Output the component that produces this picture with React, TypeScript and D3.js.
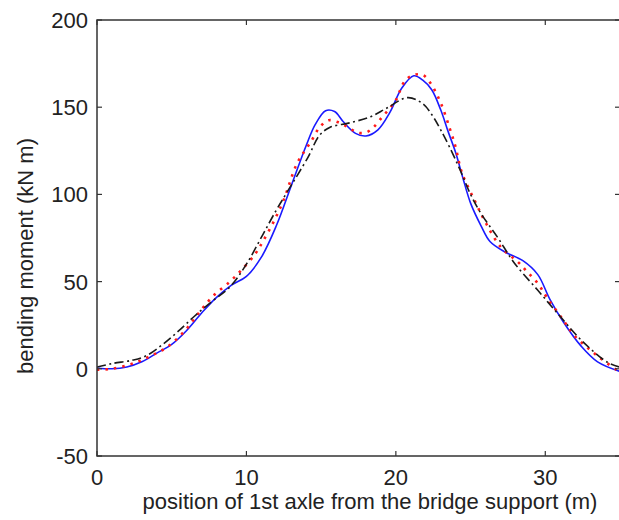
import React from "react";
import * as d3 from "d3";

const xTicks = [0, 10, 20, 30];
const yTicks = [-50, 0, 50, 100, 150, 200];

// measured (blue solid)
const blueSeries: [number, number][] = [
  [0, 0.5], [1, 0], [2, 1], [3, 4], [4, 9], [5, 14], [6, 22], [7, 32], [8, 41], [9, 48],
  [10, 53], [11, 64], [12, 82], [13, 105], [14, 128], [14.6, 140], [15.3, 148], [15.9, 147.5],
  [16.5, 141.5], [17.3, 135], [18, 133.5], [18.8, 137], [19.6, 147], [20.4, 161], [21.2, 168],
  [21.8, 165.5], [22.4, 160], [23, 148.5], [23.5, 136], [24, 124], [24.5, 109], [25, 95],
  [25.7, 82], [26.3, 73], [27.3, 67], [28.5, 62], [29.5, 54], [30.3, 40], [31.2, 27],
  [32.4, 13], [33.5, 4], [35, -1.5],
];

// red dotted
const redSeries: [number, number][] = [
  [0, -0.5], [1, 0], [2.3, 2.7], [3.5, 7], [4.7, 12.5], [5.9, 22], [6.9, 33], [7.8, 42],
  [8.9, 50], [9.6, 56], [10.6, 66], [11.1, 73], [11.8, 84], [12.5, 97], [13.4, 118],
  [14.3, 130], [14.9, 138.5], [15.5, 142.5], [16.1, 141.5], [16.8, 138.5], [17.4, 135.5],
  [18, 135.5], [18.5, 138.5], [19.1, 144.5], [19.6, 149.5], [20, 154], [20.6, 165],
  [21.2, 168.5], [21.8, 168.5], [22.3, 164], [23, 152.5], [23.6, 138], [24, 127],
  [24.4, 113], [25.3, 96], [26, 84], [27, 70], [28.2, 61], [28.8, 55.5], [29.5, 49],
  [30.1, 41], [31.2, 28], [31.9, 19.5], [33.4, 8], [35, -2],
];

// black dash-dot
const blackSeries: [number, number][] = [
  [0, 1], [1, 3], [2.4, 5], [3.3, 7.5], [4.4, 14], [5.5, 22], [6.5, 30], [7.6, 38],
  [8.9, 47], [10, 60], [11.1, 77], [12, 91], [12.7, 101], [14.1, 121], [14.9, 134],
  [15.6, 138.5], [16.9, 141], [18.3, 144.5], [19.4, 149.5], [20.8, 155.5], [21.8, 152],
  [22.5, 144.5], [23, 137], [23.6, 127], [24.3, 114], [25, 100], [25.7, 89], [26.8, 75.5],
  [27.9, 61], [29.5, 45], [30.8, 32], [32.4, 16.5], [34.2, 3.5], [35, 1],
];

const W = 619;
const H = 520;
const L = 97;
const R = 620;
const T = 20;
const B = 456;

export default function App() {
  const x = d3.scaleLinear().domain([0, 35]).range([L, R]);
  const y = d3.scaleLinear().domain([-50, 200]).range([B, T]);
  const line = d3
    .line<[number, number]>()
    .x((d) => x(d[0]))
    .y((d) => y(d[1]))
    .curve(d3.curveCatmullRom.alpha(0.5));

  const font = "'Liberation Sans', Arial, sans-serif";
  const txt = "#222";
  const ax = "#333";
  const fs = 22;

  return (
    <svg
      width={W}
      height={H}
      style={{ position: "absolute", left: 0, top: 0, background: "#fff" }}
      fontFamily={font}
    >
      <defs>
        <clipPath id="plot">
          <rect x={L} y={T} width={R - L} height={B - T} />
        </clipPath>
      </defs>
      <rect x={0} y={0} width={W} height={H} fill="#fff" />
      <g clipPath="url(#plot)" fill="none">
        <path d={line(blueSeries) || ""} stroke="#1a1aff" strokeWidth={1.6} />
        <path
          d={line(redSeries) || ""}
          stroke="#ff1a1a"
          strokeWidth={2.6}
          strokeDasharray="2.5,6"
        />
        <path
          d={line(blackSeries) || ""}
          stroke="#1a1a1a"
          strokeWidth={1.6}
          strokeDasharray="9,3.5,2,3.5"
        />
      </g>
      {/* axes box */}
      <rect x={L} y={T} width={R - L} height={B - T} fill="none" stroke={ax} strokeWidth={1.5} />
      {xTicks.map((t) => (
        <g key={"x" + t}>
          <line x1={x(t)} x2={x(t)} y1={B} y2={B - 5} stroke={ax} strokeWidth={1.2} />
          <line x1={x(t)} x2={x(t)} y1={T} y2={T + 5} stroke={ax} strokeWidth={1.2} />
          <text x={x(t)} y={B + 29} textAnchor="middle" fontSize={fs} fill={txt}>
            {t}
          </text>
        </g>
      ))}
      {yTicks.map((t) => (
        <g key={"y" + t}>
          <line x1={L} x2={L + 5} y1={y(t)} y2={y(t)} stroke={ax} strokeWidth={1.2} />
          <line x1={R - 5} x2={R} y1={y(t)} y2={y(t)} stroke={ax} strokeWidth={1.2} />
          <text x={L - 9} y={y(t) + 8} textAnchor="end" fontSize={fs} fill={txt}>
            {t}
          </text>
        </g>
      ))}
      <text x={370} y={509} textAnchor="middle" fontSize={fs} fill={txt}>
        position of 1st axle from the bridge support (m)
      </text>
      <text
        transform={`translate(33, 256) rotate(-90)`}
        textAnchor="middle"
        fontSize={fs}
        fill={txt}
      >
        bending moment (kN m)
      </text>
    </svg>
  );
}
